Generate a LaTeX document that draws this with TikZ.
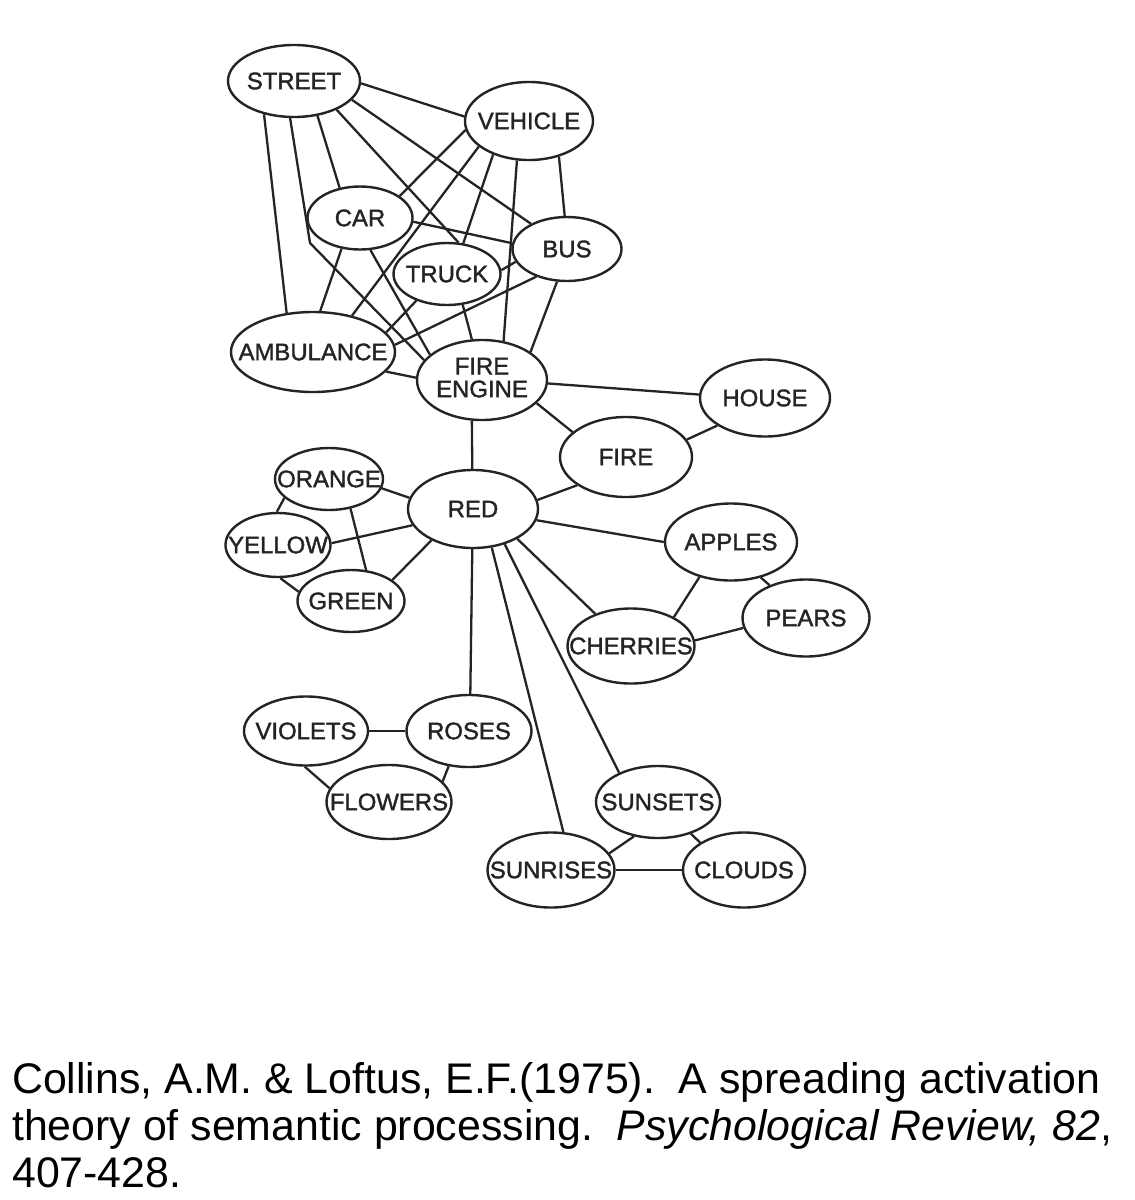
\documentclass[tikz,border=0pt]{standalone}
\usepackage{fontspec}
\setmainfont{Liberation Sans}
\newfontfamily\lblfont[FakeBold=1.5]{Liberation Sans}
\usetikzlibrary{shapes.geometric}
\definecolor{ink}{gray}{0.14}
\newcommand\zb[1]{\makebox[0pt][c]{#1}}
\frenchspacing
\begin{document}
\begin{tikzpicture}[x=1bp,y=-1bp,
  concept/.style={ellipse, draw=ink, line width=2.4bp, inner sep=0pt, text=ink,
    font=\lblfont\fontsize{24}{29}\selectfont},
  link/.style={draw=ink, line width=2.3bp},
  cite/.style={inner sep=0pt, anchor=base west, text=black, font=\fontsize{43}{47}\selectfont}]
\fill[white] (0,0) rectangle (1135,1200);
\useasboundingbox (0,0) rectangle (1135,1200);

% nodes
\node[concept, minimum width=132bp, minimum height=72bp] (street) at (294,81) {\zb{STREET}};
\node[concept, minimum width=128bp, minimum height=78bp] (vehicle) at (529,121) {\zb{VEHICLE}};
\node[concept, minimum width=105bp, minimum height=63bp] (car) at (360,218) {\zb{CAR}};
\node[concept, minimum width=109bp, minimum height=64bp] (bus) at (567,249) {\zb{BUS}};
\node[concept, minimum width=107bp, minimum height=62bp] (truck) at (447,274) {\zb{TRUCK}};
\node[concept, minimum width=164bp, minimum height=80bp] (ambulance) at (313,352) {\zb{AMBULANCE}};
\node[concept, minimum width=130bp, minimum height=80bp] (fireengine) at (482,380)
  {\zb{\begin{tabular}{@{}c@{}}FIRE\\[-6bp]ENGINE\end{tabular}}};
\node[concept, minimum width=130bp, minimum height=77bp] (house) at (765,398) {\zb{HOUSE}};
\node[concept, minimum width=132bp, minimum height=80bp] (fire) at (626,457) {\zb{FIRE}};
\node[concept, minimum width=130bp, minimum height=78bp] (red) at (473,509) {\zb{RED}};
\node[concept, minimum width=108bp, minimum height=62bp] (orange) at (329,479) {\zb{ORANGE}};
\node[concept, minimum width=105bp, minimum height=64bp] (yellow) at (278,545) {\zb{YELLOW}};
\node[concept, minimum width=107bp, minimum height=62bp] (green) at (351,601) {\zb{GREEN}};
\node[concept, minimum width=132bp, minimum height=77bp] (apples) at (731,542) {\zb{APPLES}};
\node[concept, minimum width=127bp, minimum height=77bp] (pears) at (806,618) {\zb{PEARS}};
\node[concept, minimum width=127bp, minimum height=75bp] (cherries) at (631,646) {\zb{CHERRIES}};
\node[concept, minimum width=124bp, minimum height=69bp] (violets) at (306,731) {\zb{VIOLETS}};
\node[concept, minimum width=125bp, minimum height=72bp] (roses) at (469,731) {\zb{ROSES}};
\node[concept, minimum width=125bp, minimum height=74bp] (flowers) at (389,802) {\zb{FLOWERS}};
\node[concept, minimum width=124bp, minimum height=72bp] (sunsets) at (658,802) {\zb{SUNSETS}};
\node[concept, minimum width=127bp, minimum height=75bp] (sunrises) at (551,870) {\zb{SUNRISES}};
\node[concept, minimum width=122bp, minimum height=75bp] (clouds) at (744,870) {\zb{CLOUDS}};

\coordinate (bend) at (310,243);

% vehicle cluster
\draw[link] (street.228) -- (ambulance.124);
\draw[link, line join=round] (street.264) -- (bend) -- (fireengine.161);
\draw[link] (street.304) -- (car.124);
\draw[link] (street.326) -- (truck.70);
\draw[link] (street.342) -- (bus.145);
\draw[link] (street.358) -- (vehicle.176);
\draw[link] (vehicle.188) -- (car.29);
\draw[link] (vehicle.207) -- (ambulance.43);
\draw[link] (vehicle.223) -- (truck.62);
\draw[link] (vehicle.253) -- (fireengine.61);
\draw[link] (vehicle.310) -- (bus.94);
\draw[link] (car.356) -- (bus.174);
\draw[link] (car.239) -- (ambulance.80);
\draw[link] (car.288) -- (fireengine.154);
\draw[link] (truck.4) -- (bus.194);
\draw[link] (truck.221) -- (ambulance.15);
\draw[link] (truck.297) -- (fireengine.104);
\draw[link] (bus.222) -- (ambulance.5);
\draw[link] (bus.253) -- (fireengine.30);
\draw[link] (ambulance.345) -- (fireengine.178);

% fire engine / red
\draw[link] (fireengine.357) -- (house.177);
\draw[link] (fireengine.337) -- (fire.155);
\draw[link] (fireengine.256) -- (red.91);
\draw[link] (fire.16) -- (house.210);
\draw[link] (fire.210) -- (red.8);

% colours
\draw[link] (orange.350) -- (red.170);
\draw[link] (yellow.2) -- (red.195);
\draw[link] (green.27) -- (red.217);
\draw[link] (orange.203) -- (yellow.92);
\draw[link] (orange.306) -- (green.64);
\draw[link] (yellow.274) -- (green.170);

% fruit
\draw[link] (red.350) -- (apples.180);
\draw[link] (red.326) -- (cherries.138);
\draw[link] (apples.310) -- (pears.138);
\draw[link] (apples.228) -- (cherries.34);
\draw[link] (cherries.5) -- (pears.189);

% flowers and sky
\draw[link] (red.269) -- (roses.88);
\draw[link] (red.296) -- (sunrises.72);
\draw[link] (red.312) -- (sunsets.143);
\draw[link] (violets.0) -- (roses.180);
\draw[link] (violets.268) -- (flowers.167);
\draw[link] (roses.240) -- (flowers.21);
\draw[link] (sunsets.235) -- (sunrises.16);
\draw[link] (sunsets.316) -- (clouds.148);
\draw[link] (sunrises.0) -- (clouds.180);

% citation
\node[cite] (cite1) at (12,1093) {Collins, A.M. \& Loftus, E.F.(1975).\ \ A spreading activation};
\node[cite] (cite2) at (12,1140) {theory of semantic processing.\ \ \textit{Psychological Review, 82},};
\node[cite] (cite3) at (12,1187) {407-428.};
\end{tikzpicture}
\end{document}
